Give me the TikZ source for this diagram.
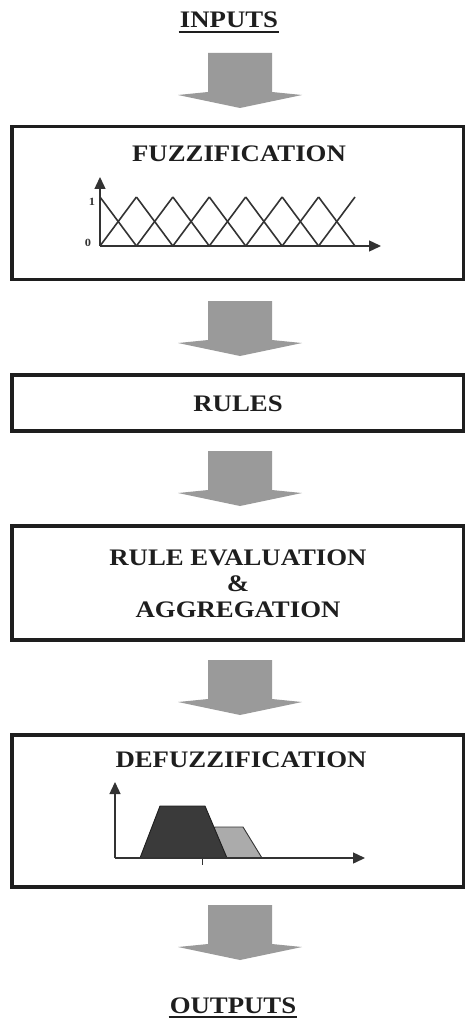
\documentclass[tikz,border=0pt]{standalone}
\usepackage{fontspec}
\setmainfont{Liberation Serif}[FakeStretch=1.13]
\usetikzlibrary{arrows.meta,calc}
\definecolor{arrowgray}{HTML}{9A9A9A}
\definecolor{inkdark}{HTML}{1E1E1E}
\definecolor{linegray}{HTML}{333333}
\definecolor{setdark}{HTML}{3A3A3A}
\definecolor{setlight}{HTML}{ABABAB}
\begin{document}
\begin{tikzpicture}[x=1pt,y=-1pt,
  stage/.style={draw=inkdark,line width=3.5pt,inner sep=0pt,minimum width=451.5pt},
  title/.style={font=\fontsize{23.7}{26}\selectfont\bfseries,text=inkdark,inner sep=0pt,anchor=base},
  axis/.style={draw=linegray,line width=1.4pt,-{Triangle[length=12pt,width=11pt]}},
  member/.style={draw=linegray,line width=1.6pt},
  tick/.style={font=\fontsize{11}{11}\selectfont\bfseries,text=linegray,inner sep=0pt},
  uline/.style={draw=inkdark,line width=2pt},
  blockarrow/.pic={\fill[arrowgray] (-32,0) -- (32,0) -- (32,39) -- (62,42) -- (0,55) -- (-62,42) -- (-32,39) -- cycle;}
]
\useasboundingbox (0,0) rectangle (466,1019);

% inputs label
\node[title] (inputs) at (229,28) {INPUTS};
\draw[uline] ($(inputs.base west)+(-1,4)$) -- ($(inputs.base east)+(1,4)$);
\pic at (240,53) {blockarrow};

% fuzzification stage
\node[stage,minimum height=153pt] (fuzz) at (237.75,203) {};
\node[title] (tfuzz) at (239,162) {FUZZIFICATION};
\foreach \k in {0,...,6}{
  \pgfmathsetmacro{\xa}{100+36.43*\k}
  \pgfmathsetmacro{\xb}{100+36.43*(\k+1)}
  \draw[member] (\xa,197) -- (\xb,246);
  \draw[member] (\xa,246) -- (\xb,197);
}
\draw[axis] (100,246) -- (100,177);
\draw[axis] (100,246) -- (381,246);
\node[tick] (one) at (92,202) {1};
\node[tick] (zero) at (88,243) {0};
\pic at (240,301) {blockarrow};

% rule base
\node[stage,minimum height=56pt] (rules) at (237.75,403) {};
\node[title] (trules) at (238,411) {RULES};
\pic at (240,451) {blockarrow};

% rule evaluation and aggregation
\node[stage,minimum height=114pt] (eval) at (237.75,583) {};
\node[title,align=center,anchor=center] (teval) at (238,584) {RULE EVALUATION\\\&\\AGGREGATION};
\pic at (240,660) {blockarrow};

% defuzzification stage
\node[stage,minimum height=152pt] (defuzz) at (237.75,811) {};
\node[title] (tdefuzz) at (241,767) {DEFUZZIFICATION};
\filldraw[fill=setlight,draw=linegray,line width=0.9pt] (195,858) -- (215,827) -- (243,827) -- (262,858) -- cycle;
\filldraw[fill=setdark,draw=inkdark,line width=0.9pt] (140,858) -- (160,806) -- (205,806) -- (227,858) -- cycle;
\draw[linegray,line width=0.9pt] (202,858) -- (202,865);
\draw[axis] (115,858) -- (115,782);
\draw[axis] (115,858) -- (365,858);
\pic at (240,905) {blockarrow};

% outputs label
\node[title] (outputs) at (233,1013) {OUTPUTS};
\draw[uline] ($(outputs.base west)+(-1,4)$) -- ($(outputs.base east)+(1,4)$);
\end{tikzpicture}
\end{document}
